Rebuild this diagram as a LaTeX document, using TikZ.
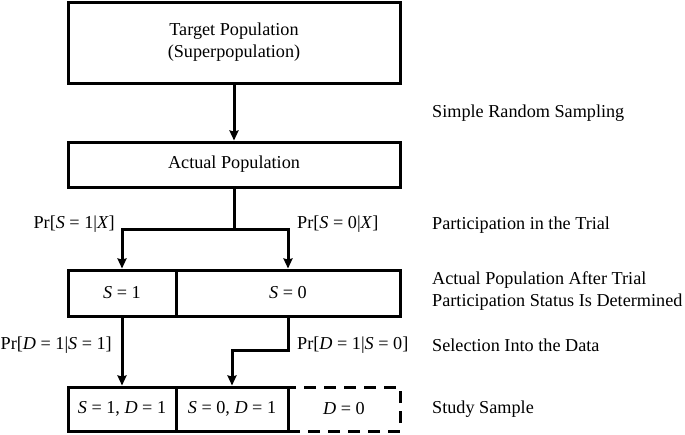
\documentclass[tikz,border=0pt]{standalone}
\usepackage{fontspec}
\setmainfont{Liberation Serif}
\usetikzlibrary{positioning,calc,arrows.meta}

\newcommand{\vi}[1]{\textit{#1}}

\begin{document}
\begin{tikzpicture}[
    x=1pt, y=-1pt,
    every node/.style={font=\fontsize{18.2}{22}\selectfont},
    box/.style={rectangle, draw, line width=3pt, align=center, inner sep=0pt},
    dashbox/.style={rectangle, draw, dashed, dash pattern=on 12pt off 8pt, line width=3pt, align=center, inner sep=0pt},
    arrow/.style={-{Stealth[length=10pt,width=9pt,inset=1pt]}, line width=3pt},
    lbl/.style={inner sep=0pt}
]
\useasboundingbox (0,0) rectangle (685,434);

% Populations
\node[box, minimum width=332pt, minimum height=81pt] (target) at (234,42.5) {Target Population\\(Superpopulation)};
\node[box, minimum width=332pt, minimum height=45pt] (actual) at (234,164.5) {Actual Population};

% Trial participation
\node[box, minimum width=108pt, minimum height=46pt] (sone) at (122,293) {\vi{S} = 1};
\node[box, minimum width=224pt, minimum height=46pt] (szero) at (288,293) {\vi{S} = 0};

% Study sample
\node[box, minimum width=108pt, minimum height=44pt] (sdone) at (122,409) {\vi{S} = 1, \vi{D} = 1};
\node[box, minimum width=112pt, minimum height=44pt] (sdzero) at (232,409) {\vi{S} = 0, \vi{D} = 1};
\node[dashbox, minimum width=112pt, minimum height=44pt] (dzero) at (344,409) {\vi{D} = 0};

% Arrows
\coordinate (split) at (234,229);
\coordinate (bend) at (288,350);
\draw[arrow] (target) -- (actual);
\draw[line width=3pt] (actual.south) -- (split);
\draw[arrow] (split) -| (sone);
\draw[arrow] (split) -| (szero);
\draw[arrow] (sone) -- (sdone);
\draw[arrow] (szero.south) -- (bend) -| (sdzero);

% Probabilities
\node[lbl, anchor=east] (pone) at (115,224) {Pr[\vi{S} = 1|\vi{X}]};
\node[lbl, anchor=west] (pzero) at (297,224) {Pr[\vi{S} = 0|\vi{X}]};
\node[lbl, anchor=east] (qone) at (112,345) {Pr[\vi{D} = 1|\vi{S} = 1]};
\node[lbl, anchor=west] (qzero) at (297,345) {Pr[\vi{D} = 1|\vi{S} = 0]};

% Stage labels
\node[lbl, anchor=west] (srs) at (432,113) {Simple Random Sampling};
\node[lbl, anchor=west] (part) at (432,225) {Participation in the Trial};
\node[lbl, anchor=west, align=left] (after) at (432,291) {Actual Population After Trial\\Participation Status Is Determined};
\node[lbl, anchor=west] (sel) at (432,345) {Selection Into the Data};
\node[lbl, anchor=west] (study) at (432,409) {Study Sample};

\end{tikzpicture}
\end{document}
